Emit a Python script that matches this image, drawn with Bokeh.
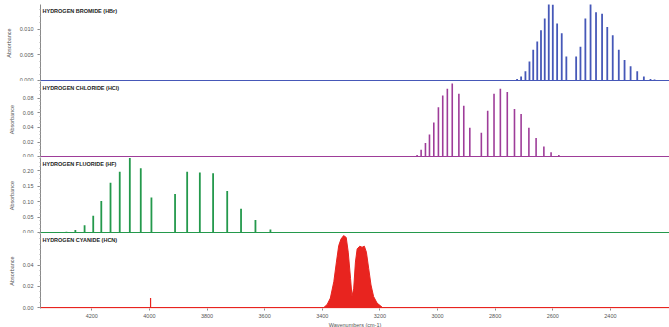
from bokeh.plotting import figure
from bokeh.layouts import column
from bokeh.models import Range1d, Span, Label, FixedTicker, PrintfTickFormatter
from bokeh.embed import file_html
from bokeh.resources import INLINE

# ---------------- data ----------------
x_ticks = [4200, 4000, 3800, 3600, 3400, 3200, 3000, 2800, 2600, 2400]

hbr_wn = [2724, 2710, 2695, 2681, 2668, 2654, 2641, 2628, 2614, 2600, 2585, 2569, 2553,
          2519, 2504, 2487, 2469, 2450, 2429, 2411, 2392, 2371, 2351, 2330, 2307, 2284, 2261, 2247]
hbr_abs = [0.0003, 0.0008, 0.0018, 0.0037, 0.0060, 0.0076, 0.0098, 0.0121, 0.0150, 0.0148, 0.0111, 0.0092, 0.0047,
           0.0047, 0.0066, 0.0121, 0.0150, 0.0133, 0.0130, 0.0104, 0.0088, 0.0060, 0.0040, 0.0028, 0.0018, 0.0008, 0.0003, 0.0002]
hbr_ticks = [0.0, 0.005, 0.010]

hcl_wn = [3071, 3057, 3042, 3028, 3013, 2997, 2982, 2966, 2949, 2926, 2909, 2888,
          2848, 2826, 2804, 2782, 2758, 2733, 2710, 2683, 2658, 2631, 2606, 2579]
hcl_abs = [0.0023, 0.0093, 0.0186, 0.0303, 0.0466, 0.0676, 0.0839, 0.0932, 0.1002, 0.0862, 0.0699, 0.0396,
           0.0326, 0.0629, 0.0862, 0.0932, 0.0886, 0.0653, 0.0583, 0.0396, 0.0256, 0.0140, 0.0060, 0.0023]
hcl_ticks = [0.0, 0.02, 0.04, 0.06, 0.08]

hf_wn = [4288, 4257, 4225, 4195, 4167, 4135, 4103, 4068, 4030, 3993,
         3911, 3869, 3825, 3779, 3730, 3682, 3632, 3580]
hf_abs = [0.003, 0.008, 0.024, 0.054, 0.102, 0.161, 0.196, 0.240, 0.207, 0.113,
          0.124, 0.196, 0.194, 0.191, 0.134, 0.077, 0.041, 0.010]
hf_ticks = [0.0, 0.05, 0.10, 0.15, 0.20]

hcn_env_wn = [3395, 3383, 3372, 3360, 3351, 3343, 3335, 3326, 3317, 3310, 3302, 3297,
              3291, 3285, 3279, 3270, 3262, 3254, 3247, 3239, 3231, 3222, 3210, 3192]
hcn_env_abs = [0.0, 0.003, 0.009, 0.0245, 0.043, 0.0586, 0.0648, 0.068, 0.0663, 0.0524, 0.0276, 0.0105,
               0.0183, 0.043, 0.0555, 0.058, 0.057, 0.058, 0.0524, 0.037, 0.0214, 0.0105, 0.0043, 0.0003]
hcn_spike_wn = [3996]
hcn_spike_abs = [0.009]
hcn_ticks = [0.0, 0.02, 0.04]

titles = ["HYDROGEN BROMIDE (HBr)", "HYDROGEN CHLORIDE (HCl)",
          "HYDROGEN FLUORIDE (HF)", "HYDROGEN CYANIDE (HCN)"]
colors = ["#4658b8", "#9e3d99", "#24994c", "#e8241f"]
ymaxes = [0.0148, 0.103, 0.242, 0.070]
tick_sets = [hbr_ticks, hcl_ticks, hf_ticks, hcn_ticks]
tick_fmts = ["%.3f", "%.2f", "%.2f", "%.2f"]

FONT = "Liberation Sans"
x_range = Range1d(start=4378, end=2195)
frame_heights = [77, 76, 76, 75]


def make_panel(i, bottom=False):
    ymax = ymaxes[i]
    p = figure(frame_width=629, frame_height=frame_heights[i],
               x_range=x_range, y_range=Range1d(start=-0.012 * ymax, end=ymax),
               output_backend="svg", toolbar_location=None,
               x_axis_location="below" if bottom else None)
    p.min_border = 0
    p.min_border_left = 40
    p.min_border_top = 4 if i == 0 else 0
    p.outline_line_color = None
    p.grid.visible = False
    p.background_fill_color = "white"
    p.border_fill_color = "white"

    ya = p.yaxis[0]
    step = tick_sets[i][1]
    ya.ticker = FixedTicker(ticks=tick_sets[i],
                            minor_ticks=[k * step / 4.0 for k in range(0, 60)])
    ya.formatter = PrintfTickFormatter(format=tick_fmts[i])
    ya.axis_label = "Absorbance"
    ya.axis_label_text_font = FONT
    ya.axis_label_text_font_size = "5.5px"
    ya.axis_label_text_font_style = "normal"
    ya.axis_label_text_color = "#555555"
    ya.axis_label_standoff = 5
    ya.major_label_text_font = FONT
    ya.major_label_text_font_size = "5.5px"
    ya.major_label_text_color = "#555555"
    ya.major_label_standoff = 4
    ya.axis_line_color = "#8a8a8a"
    ya.major_tick_line_color = "#8a8a8a"
    ya.minor_tick_line_color = "#aaaaaa"
    ya.major_tick_out = 3
    ya.major_tick_in = 0
    ya.minor_tick_out = 1
    ya.minor_tick_in = 0

    if bottom:
        xa = p.xaxis[0]
        xa.ticker = FixedTicker(ticks=x_ticks)
        xa.axis_label = "Wavenumbers (cm-1)"
        xa.axis_label_text_font = FONT
        xa.axis_label_text_font_size = "5.5px"
        xa.axis_label_text_font_style = "normal"
        xa.axis_label_text_color = "#555555"
        xa.axis_label_standoff = 1
        xa.major_label_text_font = FONT
        xa.major_label_text_font_size = "5.5px"
        xa.major_label_text_color = "#555555"
        xa.major_label_standoff = 3
        xa.axis_line_color = None
        xa.major_tick_line_color = "#8a8a8a"
        xa.minor_tick_line_color = None
        xa.major_tick_out = 2
        xa.major_tick_in = 0

    p.add_layout(Span(location=0, dimension="width", line_color=colors[i], line_width=1.3))
    p.add_layout(Label(x=x_range.start, y=ymax, x_offset=2, y_offset=-3,
                       text=titles[i], text_font=FONT, text_font_size="5.5px",
                       text_font_style="bold", text_color="#222222",
                       text_baseline="top", text_align="left"))
    return p


p1 = make_panel(0)
p1.segment(x0=hbr_wn, y0=[0] * len(hbr_wn), x1=hbr_wn, y1=hbr_abs,
           line_color=colors[0], line_width=1.8)

p2 = make_panel(1)
p2.segment(x0=hcl_wn, y0=[0] * len(hcl_wn), x1=hcl_wn, y1=hcl_abs,
           line_color=colors[1], line_width=1.6)

p3 = make_panel(2)
p3.segment(x0=hf_wn, y0=[0] * len(hf_wn), x1=hf_wn, y1=hf_abs,
           line_color=colors[2], line_width=1.8)

p4 = make_panel(3, bottom=True)
p4.varea(x=hcn_env_wn, y1=[0] * len(hcn_env_wn), y2=hcn_env_abs, fill_color=colors[3])
p4.line(x=hcn_env_wn, y=hcn_env_abs, line_color=colors[3], line_width=1)
p4.segment(x0=hcn_spike_wn, y0=[0] * len(hcn_spike_wn), x1=hcn_spike_wn, y1=hcn_spike_abs,
           line_color=colors[3], line_width=1.2)

layout = column(p1, p2, p3, p4, spacing=0)

open("out.html", "w").write(file_html(layout, INLINE))
